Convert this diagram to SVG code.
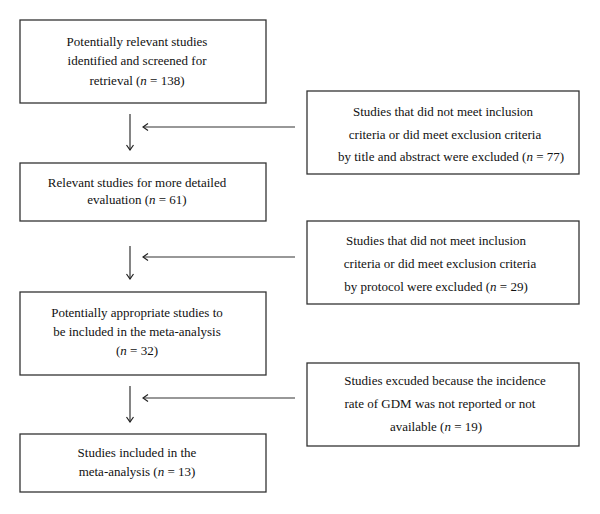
<svg xmlns="http://www.w3.org/2000/svg" width="600" height="514" viewBox="0 0 600 514">
<defs>
<marker id="ah" viewBox="0 0 10 10" refX="9" refY="5" markerWidth="10" markerHeight="10" markerUnits="userSpaceOnUse" orient="auto">
<path d="M4,1.5 L9,5 L4,8.5" fill="none" stroke="#222" stroke-width="1.2"/>
</marker>
</defs>
<style>
.box{fill:#fff;stroke:#333;stroke-width:1.3}
.t{font-family:"Liberation Serif",serif;font-size:13px;fill:#111;text-anchor:middle}
.c{stroke:#333;stroke-width:1.2;fill:none;marker-end:url(#ah)}
</style>
<rect width="600" height="514" fill="#fff"/>
<g id="n1"><rect class="box" x="20" y="20" width="246" height="83"/>
<text class="t" x="137" y="46">Potentially relevant studies</text>
<text class="t" x="137" y="65">identified and screened for</text>
<text class="t" x="137" y="85">retrieval (<tspan font-style="italic">n</tspan> = 138)</text></g>
<g id="n2"><rect class="box" x="20" y="163" width="246" height="58"/>
<text class="t" x="137" y="187">Relevant studies for more detailed</text>
<text class="t" x="137" y="204">evaluation (<tspan font-style="italic">n</tspan> = 61)</text></g>
<g id="n3"><rect class="box" x="20" y="292" width="246" height="83"/>
<text class="t" x="137" y="317">Potentially appropriate studies to</text>
<text class="t" x="137" y="336">be included in the meta-analysis</text>
<text class="t" x="137" y="355">(<tspan font-style="italic">n</tspan> = 32)</text></g>
<g id="n4"><rect class="box" x="20" y="434" width="246" height="58"/>
<text class="t" x="137" y="457">Studies included in the</text>
<text class="t" x="137" y="476">meta-analysis (<tspan font-style="italic">n</tspan> = 13)</text></g>
<g id="e1"><rect class="box" x="307" y="91" width="272" height="83"/>
<text class="t" x="443" y="116">Studies that did not meet inclusion</text>
<text class="t" x="445" y="139">criteria or did meet exclusion criteria</text>
<text class="t" x="451" y="161">by title and abstract were excluded (<tspan font-style="italic">n</tspan> = 77)</text></g>
<g id="e2"><rect class="box" x="307" y="221" width="272" height="83"/>
<text class="t" x="436" y="245">Studies that did not meet inclusion</text>
<text class="t" x="440" y="268">criteria or did meet exclusion criteria</text>
<text class="t" x="436" y="291">by protocol were excluded (<tspan font-style="italic">n</tspan> = 29)</text></g>
<g id="e3"><rect class="box" x="307" y="363" width="272" height="83"/>
<text class="t" x="445" y="385">Studies excuded because the incidence</text>
<text class="t" x="440" y="408">rate of GDM was not reported or not</text>
<text class="t" x="436" y="431">available (<tspan font-style="italic">n</tspan> = 19)</text></g>
<g id="connectors">
<line class="c" x1="130" y1="114" x2="130" y2="150"/>
<line class="c" x1="295" y1="127" x2="143" y2="127"/>
<line class="c" x1="130" y1="246" x2="130" y2="279"/>
<line class="c" x1="295" y1="257" x2="143" y2="257"/>
<line class="c" x1="130" y1="386" x2="130" y2="422"/>
<line class="c" x1="295" y1="398" x2="143" y2="398"/>
</g>
</svg>
